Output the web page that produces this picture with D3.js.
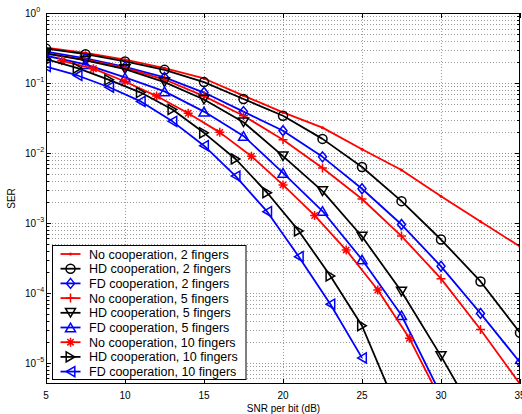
<!DOCTYPE html>
<html>
<head>
<meta charset="utf-8">
<script src="https://d3js.org/d3.v7.min.js"></script>
<style>
  body { margin: 0; background: #fff; }
  text { font-family: "Liberation Sans", Arial, Helvetica, sans-serif; }
</style>
</head>
<body>
<div id="chart"></div>
<script>
var chartWidth = 522;
var chartHeight = 414;

// x positions of the markers
var snrQuarter = [5, 7.5, 10, 12.5, 15, 17.5, 20, 22.5, 25, 27.5, 30, 32.5, 35];
var snrOdd = [5, 7, 9, 11, 13, 15, 17, 19, 21, 23, 25, 27];
var snrEven = [6, 8, 10, 12, 14, 16, 18, 20, 22, 24, 26, 28, 30];

// SER values
var noCoop2 = [0.32, 0.27, 0.215, 0.163, 0.116, 0.066, 0.038, 0.023, 0.0113, 0.0057, 0.0024, 0.00105, 4.6e-4];
var hdCoop2 = [0.31, 0.258, 0.203, 0.154, 0.103, 0.059, 0.034, 0.0159, 0.0063, 0.00205, 5.8e-4, 1.46e-4, 2.7e-5];
var fdCoop2 = [0.28, 0.225, 0.17, 0.12, 0.073, 0.039, 0.0208, 0.0088, 0.00308, 9.5e-4, 2.4e-4, 5.1e-5, 1.02e-5];
var noCoop5 = [0.26, 0.215, 0.165, 0.112, 0.065, 0.034, 0.0155, 0.0061, 0.0022, 6.5e-4, 1.6e-4, 3.0e-5, 5.0e-6];
var hdCoop5 = [0.265, 0.21, 0.158, 0.103, 0.058, 0.0275, 0.009, 0.00285, 6.4e-4, 1.05e-4, 1.25e-5, 1.3e-6];
var fdCoop5 = [0.245, 0.185, 0.12, 0.076, 0.039, 0.0175, 0.0052, 0.00148, 3.0e-4, 4.8e-5, 3.5e-6];
var noCoop10 = [0.207, 0.16, 0.105, 0.065, 0.037, 0.0197, 0.009, 0.0035, 0.00128, 4.1e-4, 1.1e-4, 2.25e-5, 2.9e-6];
var hdCoop10 = [0.22, 0.163, 0.111, 0.073, 0.0418, 0.0194, 0.0082, 0.0027, 7.7e-4, 1.75e-4, 3.4e-5, 2.9e-6];
var fdCoop10 = [0.172, 0.128, 0.087, 0.0545, 0.0283, 0.0127, 0.00468, 0.00145, 3.3e-4, 6.9e-5, 1.18e-5];

var seriesNames = [
    'No cooperation, 2 fingers', 'HD cooperation, 2 fingers', 'FD cooperation, 2 fingers',
    'No cooperation, 5 fingers', 'HD cooperation, 5 fingers', 'FD cooperation, 5 fingers',
    'No cooperation, 10 fingers', 'HD cooperation, 10 fingers', 'FD cooperation, 10 fingers'
];
var xTicks = [5, 10, 15, 20, 25, 30, 35];
var yExponents = [0, -1, -2, -3, -4, -5];

var series = [
    { x: snrQuarter, y: noCoop2, color: '#ff0000', marker: 'point' },
    { x: snrQuarter, y: hdCoop2, color: '#000000', marker: 'circle' },
    { x: snrQuarter, y: fdCoop2, color: '#0000ff', marker: 'diamond' },
    { x: snrQuarter, y: noCoop5, color: '#ff0000', marker: 'plus' },
    { x: snrQuarter, y: hdCoop5, color: '#000000', marker: 'down' },
    { x: snrQuarter, y: fdCoop5, color: '#0000ff', marker: 'up' },
    { x: snrEven, y: noCoop10, color: '#ff0000', marker: 'star' },
    { x: snrOdd, y: hdCoop10, color: '#000000', marker: 'right' },
    { x: snrOdd, y: fdCoop10, color: '#0000ff', marker: 'left' }
];

var markerPaths = {
    diamond: 'M0,-5L4,0L0,5L-4,0Z',
    plus: 'M-4.5,0H4.5M0,-4.5V4.5',
    star: 'M-4.5,0H4.5M0,-4.5V4.5M-3.2,-3.2L3.2,3.2M-3.2,3.2L3.2,-3.2',
    down: 'M-5,-4.3L5,-4.3L0,4.3Z',
    up: 'M-5,4.3L5,4.3L0,-4.3Z',
    right: 'M-4.3,-5L4.3,0L-4.3,5Z',
    left: 'M4.3,-5L-4.3,0L4.3,5Z'
};

var plot = { left: 46, right: 520, top: 13, bottom: 384 };

var x = d3.scaleLinear().domain([5, 35]).range([plot.left, plot.right]);
var y = d3.scaleLog().domain([5e-6, 1]).range([plot.bottom, plot.top]);

var svg = d3.select('#chart').append('svg')
    .attr('width', chartWidth)
    .attr('height', chartHeight);

svg.append('rect').attr('width', chartWidth).attr('height', chartHeight).attr('fill', '#fff');

svg.append('clipPath').attr('id', 'plotClip')
    .append('rect')
    .attr('x', plot.left).attr('y', plot.top)
    .attr('width', plot.right - plot.left).attr('height', plot.bottom - plot.top);

// dotted grid
var grid = svg.append('g').attr('stroke', '#9a9a9a').attr('stroke-width', 1).attr('stroke-dasharray', '1,2');
xTicks.slice(1, -1).forEach(function (t) {
    grid.append('line')
        .attr('x1', Math.round(x(t)) + 0.5).attr('x2', Math.round(x(t)) + 0.5)
        .attr('y1', plot.top).attr('y2', plot.bottom);
});
var yGridValues = [];
for (var e = -6; e < 0; e++) {
    for (var m = 1; m < 10; m++) {
        var v = m * Math.pow(10, e);
        if (v > 5e-6 && v < 1) yGridValues.push(v);
    }
}
yGridValues.forEach(function (v) {
    grid.append('line')
        .attr('x1', plot.left).attr('x2', plot.right)
        .attr('y1', Math.round(y(v)) + 0.5).attr('y2', Math.round(y(v)) + 0.5);
});

function drawMarker(g, kind, color) {
    if (kind === 'circle') {
        g.append('circle').attr('r', 4.5).attr('fill', 'none').attr('stroke', color).attr('stroke-width', 1.5);
    } else if (kind === 'point') {
        g.append('circle').attr('r', 1.5).attr('fill', color);
    } else {
        g.append('path').attr('d', markerPaths[kind]).attr('fill', 'none')
            .attr('stroke', color).attr('stroke-width', 1.5);
    }
}

var lineGen = d3.line()
    .x(function (d) { return x(d[0]); })
    .y(function (d) { return y(d[1]); });

var lines = svg.append('g').attr('clip-path', 'url(#plotClip)');
series.forEach(function (s) {
    var pts = s.y.map(function (v, i) { return [s.x[i], v]; });
    lines.append('path')
        .attr('d', lineGen(pts))
        .attr('fill', 'none')
        .attr('stroke', s.color)
        .attr('stroke-width', 1.8)
        .attr('stroke-linejoin', 'round');
    pts.forEach(function (p) {
        var g = lines.append('g').attr('transform', 'translate(' + x(p[0]) + ',' + y(p[1]) + ')');
        drawMarker(g, s.marker, s.color);
    });
});

// box and ticks
var axes = svg.append('g').attr('stroke', '#000').attr('stroke-width', 1).attr('fill', 'none');
axes.append('rect')
    .attr('x', plot.left + 0.5).attr('y', plot.top + 0.5)
    .attr('width', plot.right - plot.left - 1).attr('height', plot.bottom - plot.top - 1);
xTicks.forEach(function (t) {
    var px = Math.round(x(t)) + 0.5;
    axes.append('line').attr('x1', px).attr('x2', px).attr('y1', plot.bottom).attr('y2', plot.bottom - 5);
    axes.append('line').attr('x1', px).attr('x2', px).attr('y1', plot.top).attr('y2', plot.top + 5);
});
yGridValues.concat([1]).forEach(function (v) {
    var major = Math.abs(Math.log10(v) - Math.round(Math.log10(v))) < 1e-9;
    var len = major ? 5 : 3;
    var py = Math.round(y(v)) + 0.5;
    axes.append('line').attr('x1', plot.left).attr('x2', plot.left + len).attr('y1', py).attr('y2', py);
    axes.append('line').attr('x1', plot.right).attr('x2', plot.right - len).attr('y1', py).attr('y2', py);
});

// tick labels
var labels = svg.append('g').attr('font-size', 10).attr('fill', '#000');
xTicks.forEach(function (t) {
    labels.append('text').attr('x', x(t)).attr('y', 398.5).attr('text-anchor', 'middle').text(t);
});
yExponents.forEach(function (ex) {
    var py = y(Math.pow(10, ex));
    var t = labels.append('text').attr('x', 25).attr('y', py + 4.3);
    t.append('tspan').text('10');
    t.append('tspan').attr('font-size', 7).attr('dy', -5.5).text(ex === 0 ? '0' : '\u2212' + (-ex));
});

labels.append('text').attr('x', 283.5).attr('y', 411.5).attr('text-anchor', 'middle').text('SNR per bit (dB)');
labels.append('text').attr('transform', 'translate(15,198.5) rotate(-90)')
    .attr('text-anchor', 'middle').text('SER');

// legend
var legend = svg.append('g');
legend.append('rect')
    .attr('x', 52.5).attr('y', 245.5).attr('width', 193.5).attr('height', 134)
    .attr('fill', '#fff').attr('stroke', '#000').attr('stroke-width', 1);
series.forEach(function (s, i) {
    var cy = 254 + i * 14.7;
    legend.append('line')
        .attr('x1', 60.5).attr('x2', 80.5).attr('y1', cy).attr('y2', cy)
        .attr('stroke', s.color).attr('stroke-width', 1.8);
    var g = legend.append('g').attr('transform', 'translate(70.5,' + cy + ')');
    drawMarker(g, s.marker, s.color);
    legend.append('text')
        .attr('x', 89).attr('y', cy + 4.5)
        .attr('font-size', 12.5)
        .text(seriesNames[i]);
});
</script>
</body>
</html>
